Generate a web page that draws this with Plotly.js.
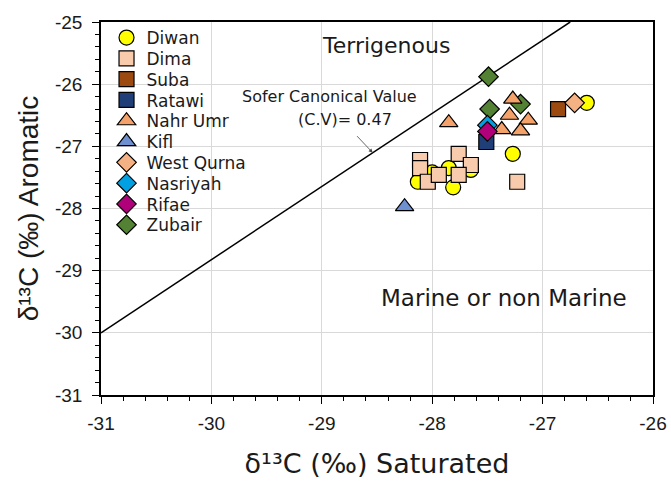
<!DOCTYPE html>
<html>
<head>
<meta charset="utf-8">
<script src="https://cdn.plot.ly/plotly-3.0.1.min.js"></script>
<style>html,body{margin:0;padding:0;background:#fff}#chart{width:671px;height:483px}</style>
</head>
<body>
<div id="chart"></div>
<script>
// ---- data ----
const seriesNames = ['Diwan', 'Dima', 'Suba', 'Ratawi', 'Nahr Umr', 'Kifl', 'West Qurna', 'Nasriyah', 'Rifae', 'Zubair'];
const diwanX = [-26.60, -27.27, -28.13, -27.81, -27.85, -27.65, -28.00];
const diwanY = [-26.30, -27.12, -27.57, -27.66, -27.35, -27.38, -27.42];
const dimaX = [-27.23, -28.11, -28.11, -28.04, -27.94, -27.76, -27.65, -27.76];
const dimaY = [-27.57, -27.22, -27.35, -27.57, -27.46, -27.12, -27.30, -27.46];
const subaX = [-26.86];
const subaY = [-26.40];
const ratawiX = [-27.51];
const ratawiY = [-26.93];
const nahrUmrX = [-27.27, -27.85, -27.30, -27.13, -27.37, -27.20];
const nahrUmrY = [-26.24, -26.62, -26.50, -26.58, -26.73, -26.75];
const kiflX = [-28.25];
const kiflY = [-27.97];
const westQurnaX = [-26.71];
const westQurnaY = [-26.30];
const nasriyahX = [-27.50];
const nasriyahY = [-26.66];
const rifaeX = [-27.50];
const rifaeY = [-26.76];
const zubairX = [-27.49, -27.48, -27.20];
const zubairY = [-25.88, -26.40, -26.32];
// Sofer canonical value line end points
const soferX = [-31, -26.75];
const soferY = [-30, -25];
const xTickVals = [-31, -30, -29, -28, -27, -26];
const xTickText = ['-31', '-30', '-29', '-28', '-27', '-26'];
const yTickVals = [-31, -30, -29, -28, -27, -26, -25];
const yTickText = ['-31', '-30', '-29', '-28', '-27', '-26', '-25'];

const FONT = 'Liberation Sans, Arial, sans-serif';
const WIDE = 'DejaVu Sans, sans-serif';
const TXT = '#1a1a1a';
const outline = {color: '#000', width: 1.2};

function legendId(name) {
  const i = seriesNames.indexOf(name);
  return i === 0 ? 'legend' : 'legend' + (i + 1);
}

function pts(name, x, y, symbol, color, size) {
  return {type: 'scatter', mode: 'markers', name: name, x: x, y: y, legend: legendId(name),
    marker: {symbol: symbol, color: color, size: size, line: outline}};
}

const traces = [
  {type: 'scatter', mode: 'lines', x: soferX, y: soferY, showlegend: false, hoverinfo: 'skip',
   line: {color: '#000', width: 1.5}},
  pts('Zubair', zubairX, zubairY, 'diamond', '#548235', 15),
  pts('Diwan', diwanX, diwanY, 'circle', '#FFFF00', 15),
  pts('Dima', dimaX, dimaY, 'square', '#F8CBAD', 15),
  pts('Suba', subaX, subaY, 'square', '#9C4A0F', 15),
  pts('Ratawi', ratawiX, ratawiY, 'square', '#203F78', 15),
  pts('Nahr Umr', nahrUmrX, nahrUmrY, 'triangle-up', '#F4A16A', 16),
  pts('Kifl', kiflX, kiflY, 'triangle-up', '#6E8FD0', 16),
  pts('West Qurna', westQurnaX, westQurnaY, 'diamond', '#F4B183', 15),
  pts('Nasriyah', nasriyahX, nasriyahY, 'diamond', '#00A0E3', 15),
  pts('Rifae', rifaeX, rifaeY, 'diamond', '#B0007A', 15)
];

const axisCommon = {
  showline: true, linecolor: '#000', linewidth: 1.5, mirror: true,
  showgrid: true, gridcolor: '#D9D9D9', gridwidth: 1,
  zeroline: false, ticks: 'outside', ticklen: 7, tickwidth: 1.3, tickcolor: '#000',
  tickfont: {family: FONT, size: 19, color: TXT},
  minor: {ticks: 'outside', ticklen: 4, tickwidth: 1.2, tickcolor: '#000', dtick: 0.2, showgrid: false},
  automargin: false
};

const layout = {
  width: 671, height: 483,
  margin: {l: 101, r: 18, t: 22, b: 88},
  paper_bgcolor: '#fff', plot_bgcolor: '#fff',
  showlegend: true,
  xaxis: Object.assign({}, axisCommon, {
    range: [-31, -26], tickmode: 'array', tickvals: xTickVals, ticktext: xTickText, ticklabelstandoff: 3,
    title: {text: 'δ¹³C (‰) Saturated', font: {family: WIDE, size: 27, color: TXT}, standoff: 22}
  }),
  yaxis: Object.assign({}, axisCommon, {
    range: [-31, -25], tickmode: 'array', tickvals: yTickVals, ticktext: yTickText, ticklabelstandoff: 6,
    title: {text: 'δ¹³C (‰) Aromatic', font: {family: FONT, size: 28, color: TXT}, standoff: 8}
  }),
  annotations: [
    {x: -28.42, y: -25.37, xref: 'x', yref: 'y', text: 'Terrigenous', showarrow: false,
     font: {family: WIDE, size: 22, color: TXT}},
    {x: -27.35, y: -29.44, xref: 'x', yref: 'y', text: 'Marine or non Marine', showarrow: false,
     font: {family: WIDE, size: 23, color: TXT}},
    {x: -28.926, y: -26.20, xref: 'x', yref: 'y', text: 'Sofer Canonical Value', showarrow: false,
     font: {family: WIDE, size: 16, color: TXT}},
    {x: -28.79, y: -26.576, xref: 'x', yref: 'y', text: '(C.V)= 0.47', showarrow: false,
     font: {family: WIDE, size: 16, color: TXT}},
    {x: -28.539, y: -27.102, xref: 'x', yref: 'y', ax: -17, ay: -18, text: '', showarrow: true,
     arrowhead: 2, arrowsize: 1, arrowwidth: 0.8, arrowcolor: '#444'}
  ]
};

// one legend per series so the entries can sit as tightly as in the reference
const plotBottom = 483 - 88, plotH = 483 - 88 - 22;
seriesNames.forEach(function (name, i) {
  const centerPx = 38.3 + i * 20.8;
  const topPx = centerPx - 18.3;
  layout[legendId(name)] = {
    x: 0.01, xanchor: 'left', y: (plotBottom - topPx) / plotH, yanchor: 'top',
    bgcolor: 'rgba(0,0,0,0)', font: {family: WIDE, size: 17, color: TXT}
  };
});

Plotly.newPlot('chart', traces, layout, {displayModeBar: false, responsive: false});
</script>
</body>
</html>
